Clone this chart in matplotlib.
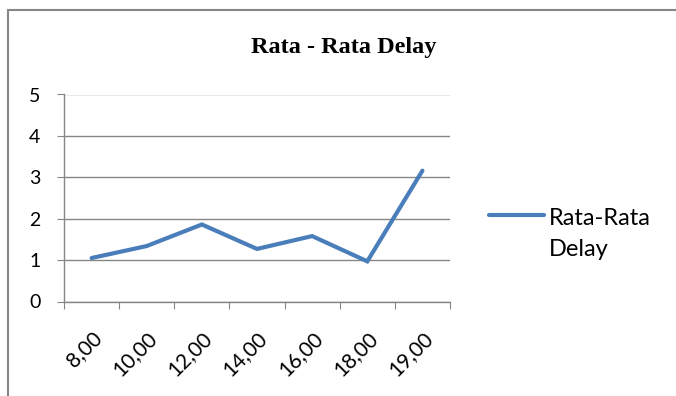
import numpy as np
import matplotlib.pyplot as plt
from matplotlib.patches import Rectangle

# data
jam = ['8,00', '10,00', '12,00', '14,00', '16,00', '18,00', '19,00']
delay = [1.05, 1.34, 1.86, 1.27, 1.58, 0.97, 3.16]

plt.rcParams['font.family'] = ['Lato', 'DejaVu Sans']

fig = plt.figure(figsize=(6.76, 3.96), dpi=100)
ax = fig.add_axes([64 / 676, 94.5 / 396, 386 / 676, 207 / 396])

# chart border (left and top edges visible)
fig.add_artist(Rectangle((8 / 676, -0.1), 1.0, (396 - 10) / 396 + 0.1,
                         transform=fig.transFigure, fill=False,
                         edgecolor='#868686', linewidth=1.5))

x = [i + 0.5 for i in range(len(jam))]
ax.plot(x, delay, color='#4a7ebb', linewidth=3.0, solid_capstyle='round',
        solid_joinstyle='miter', label='Rata-Rata\nDelay')

ax.set_xlim(0, len(jam))
ax.set_ylim(0, 5)
ax.set_yticks(range(6))
ax.set_xticks(range(len(jam) + 1))
ax.set_xticklabels([])
ax.set_xticks(x, minor=True)
ax.set_xticklabels(jam, minor=True, rotation=45, ha='right', va='top',
                   rotation_mode='anchor', fontsize=15)
ax.tick_params(axis='x', which='minor', length=0, pad=19)
ax.tick_params(axis='x', which='major', length=5, color='#868686', direction='out')
ax.tick_params(axis='y', length=5, color='#868686', labelsize=14, pad=12)

ax.grid(axis='y', color='#868686', linewidth=1.0)
ax.set_axisbelow(True)
for s in ['top', 'right']:
    ax.spines[s].set_visible(False)
for s in ['left', 'bottom']:
    ax.spines[s].set_color('#868686')
    ax.spines[s].set_linewidth(1.0)

fig.text(344 / 676, 1 - 47 / 396, 'Rata - Rata Delay', ha='center', va='center',
         fontsize=17.5, fontweight='bold', family='Liberation Serif')

leg = ax.legend(loc='upper left', bbox_to_anchor=(1.07, 0.51), frameon=False,
                fontsize=17, handlelength=2.35, handletextpad=0.2,
                borderpad=0, labelspacing=0)
for t in leg.get_texts():
    t.set_linespacing(1.6)
# keep the legend line level with the first text line
h = leg.legend_handles[0]
h.set_ydata(np.asarray(h.get_ydata()) + 14)

fig.savefig('out.png', dpi=100)
